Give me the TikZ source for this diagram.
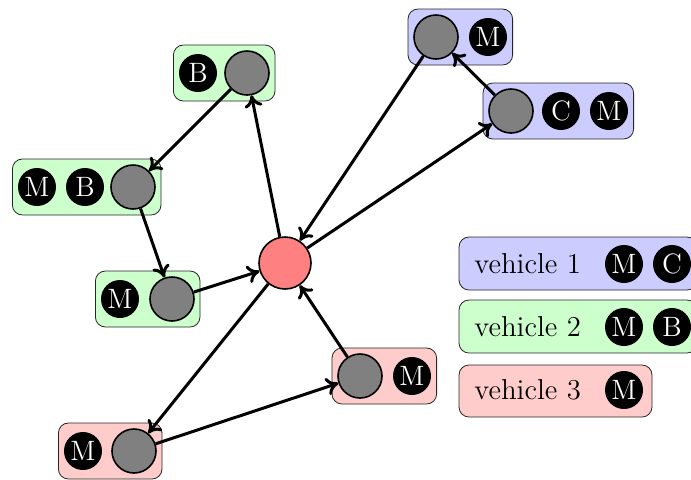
\documentclass[tikz,border=0pt]{standalone}
\usetikzlibrary{fit,backgrounds,arrows.meta}
\begin{document}
\begin{tikzpicture}[x=0.5pt,y=-0.5pt,
  veh/.style={circle,draw=black,fill=gray,line width=0.8pt,minimum size=22pt,inner sep=0pt},
  tag/.style={circle,fill=black,text=white,minimum size=19pt,inner sep=0pt,font=\fontsize{14}{16}\selectfont},
  depot/.style={circle,draw=black,fill=red!50,line width=0.8pt,minimum size=26pt,inner sep=0pt},
  grp/.style={draw=black!85,rounded corners=5pt,inner sep=2.6pt,line width=0.4pt},
  gblue/.style={grp,fill=blue!20},
  ggreen/.style={grp,fill=green!20},
  gred/.style={grp,fill=red!20},
  lgd/.style={draw=black!85,rounded corners=5pt,line width=0.4pt},
  lbl/.style={anchor=west,inner sep=0pt,font=\fontsize{14.4}{17}\selectfont},
  arr/.style={-{Computer Modern Rightarrow[length=6pt,width=9pt]},line width=1.5pt}]
\useasboundingbox (0,0) rectangle (691,479);
\clip (0,0) rectangle (691,479);

% depot
\node[depot] (d) at (285,263) {};

% green route
\node[tag] (g1b) at (198,73) {B};
\node[veh] (g1) at (247,73) {};
\node[tag] (g2m) at (37,187) {M};
\node[tag] (g2b) at (85,187) {B};
\node[veh] (g2) at (133,187) {};
\node[tag] (g3m) at (120,299) {M};
\node[veh] (g3) at (172,299) {};

% blue route
\node[veh] (b1) at (436,37) {};
\node[tag] (b1m) at (488,37) {M};
\node[veh] (b2) at (511,111) {};
\node[tag] (b2c) at (561,111) {C};
\node[tag] (b2m) at (609,111) {M};

% red route
\node[veh] (r1) at (360,376) {};
\node[tag] (r1m) at (412,376) {M};
\node[tag] (r2m) at (83,451) {M};
\node[veh] (r2) at (134,451) {};

% legend entries
\node[tag] (l1m) at (624,264) {M};
\node[tag] (l1c) at (672,264) {C};
\node[tag] (l2m) at (624,327) {M};
\node[tag] (l2b) at (672,327) {B};
\node[tag] (l3m) at (624,390) {M};
\node[lbl] (l1t) at (474,264) {vehicle 1};
\node[lbl] (l2t) at (474,327) {vehicle 2};
\node[lbl] (l3t) at (474,390) {vehicle 3};

\begin{scope}[on background layer]
  \node[ggreen,fit=(g1b)(g1)] (G1) {};
  \node[ggreen,fit=(g2m)(g2b)(g2)] (G2) {};
  \node[ggreen,fit=(g3m)(g3)] (G3) {};
  \node[gblue,fit=(b1)(b1m)] (B1) {};
  \node[gblue,fit=(b2)(b2c)(b2m)] (B2) {};
  \node[gred,fit=(r1)(r1m)] (R1) {};
  \node[gred,fit=(r2m)(r2)] (R2) {};
  \draw[lgd,fill=blue!20] (459,237) rectangle (697,290);
  \draw[lgd,fill=green!20] (459,300) rectangle (697,353);
  \draw[lgd,fill=red!20] (459,365) rectangle (652,417);
\end{scope}

% connectors
\draw[arr] (d) -- (g1);
\draw[arr] (g1) -- (g2);
\draw[arr] (g2) -- (g3);
\draw[arr] (g3) -- (d);
\draw[arr] (d) -- (b2);
\draw[arr] (b2) -- (b1);
\draw[arr] (b1) -- (d);
\draw[arr] (d) -- (r2);
\draw[arr] (r2) -- (r1);
\draw[arr] (r1) -- (d);
\end{tikzpicture}
\end{document}
